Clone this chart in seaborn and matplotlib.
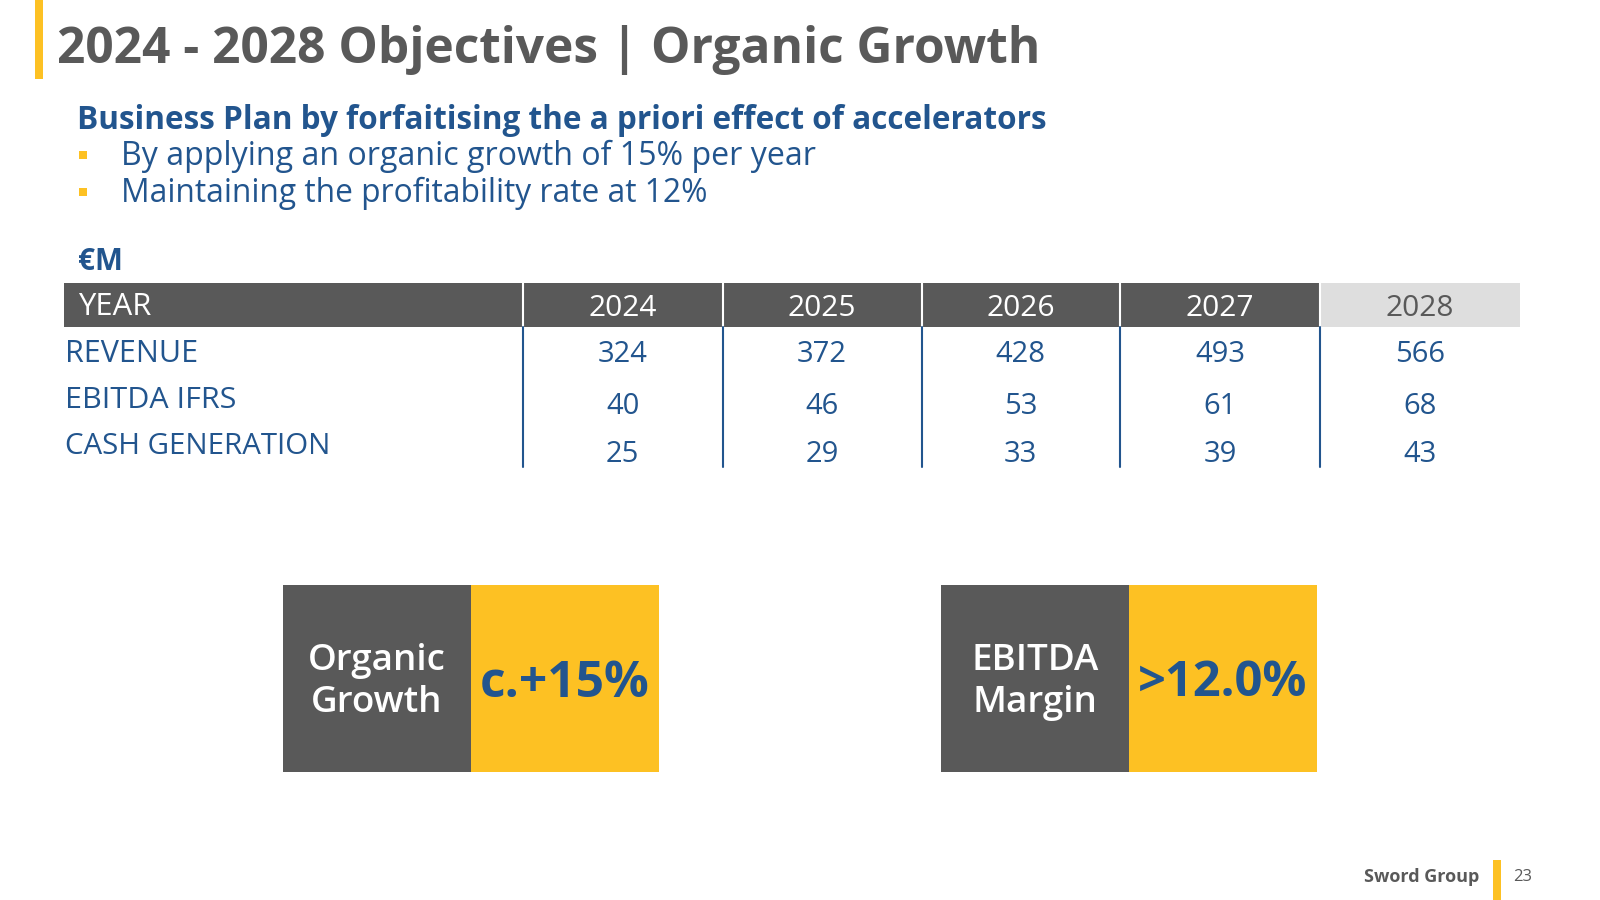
import matplotlib
matplotlib.use("Agg")
import matplotlib.pyplot as plt
from matplotlib.patches import Rectangle
import seaborn as sns

sns.set_theme(style="white")
plt.rcParams['font.family'] = ['Open Sans', 'DejaVu Sans']

# --- data ---
years = ["2024", "2025", "2026", "2027", "2028"]
row_labels = ["REVENUE", "EBITDA IFRS", "CASH GENERATION"]
revenue = [324, 372, 428, 493, 566]
ebitda = [40, 46, 53, 61, 68]
cash = [25, 29, 33, 39, 43]
kpi_labels = ["Organic\nGrowth", "EBITDA\nMargin"]
kpi_values = ["c.+15%", ">12.0%"]
title = "2024 - 2028 Objectives | Organic Growth"
subtitle = "Business Plan by forfaitising the a priori effect of accelerators"
bullets = ["By applying an organic growth of 15% per year",
           "Maintaining the profitability rate at 12%"]

GRAY = "#595959"
YELLOW = "#FDC123"
BLUE = "#22558E"
LIGHT = "#DEDEDE"

fig = plt.figure(figsize=(16, 9), dpi=100)
ax = fig.add_axes([0, 0, 1, 1])
ax.set_xlim(0, 1600)
ax.set_ylim(900, 0)
ax.axis("off")
renderer = fig.canvas.get_renderer()


def fit_text(x, y, s, width, **kw):
    # draw text and scale its size so it spans the given pixel width
    t = ax.text(x, y, s, fontsize=20, **kw)
    w = t.get_window_extent(renderer=renderer).width
    t.set_fontsize(20 * width / w)
    return t


# title block
ax.add_patch(Rectangle((35, 0), 8, 79, color=YELLOW, lw=0))
fit_text(57, 63, title, 984, color=GRAY, fontweight="bold", va="baseline")
fit_text(77, 129, subtitle, 969, color=BLUE, fontweight="bold", va="baseline")
for i, (txt, w) in enumerate(zip(bullets, [692, 586])):
    y = 165 + i * 37
    ax.add_patch(Rectangle((79, y - 14), 8, 8, color=YELLOW, lw=0))
    fit_text(121, y, txt, w, color=BLUE, va="baseline")

fit_text(78, 270, "€M", 45, color=BLUE, fontweight="bold", va="baseline")

# table
edges = [64, 523, 722.5, 921.5, 1120, 1320, 1520]
head_top, head_bot = 283, 327
ax.add_patch(Rectangle((edges[0], head_top), edges[5] - edges[0], head_bot - head_top, color=GRAY, lw=0))
ax.add_patch(Rectangle((edges[5], head_top), edges[6] - edges[5], head_bot - head_top, color=LIGHT, lw=0))
fit_text(78, 307, "YEAR", 73, color="white", va="center")
for j, yr in enumerate(years):
    cx = (edges[j + 1] + edges[j + 2]) / 2
    ax.text(cx, 309, yr, color=GRAY if j == len(years) - 1 else "white",
            fontsize=21.5, ha="center", va="center")
for xe in edges[1:6]:
    ax.plot([xe, xe], [head_top, head_bot], color="white", lw=1.5)
    ax.plot([xe, xe], [head_bot, 467], color=BLUE, lw=1.5)

label_y = [354, 400, 447]
value_y = [354, 407, 454]
label_w = [133, 171, 266]
for i, (lab, vals) in enumerate(zip(row_labels, [revenue, ebitda, cash])):
    fit_text(65, label_y[i], lab, label_w[i], color=BLUE, va="center")
    for j, v in enumerate(vals):
        cx = (edges[j + 1] + edges[j + 2]) / 2
        ax.text(cx, value_y[i], str(v), color=BLUE, fontsize=21, ha="center", va="center")

# KPI boxes
box_x = [283, 941]
for bx, lab, val in zip(box_x, kpi_labels, kpi_values):
    ax.add_patch(Rectangle((bx, 585), 188, 187, color=GRAY, lw=0))
    ax.add_patch(Rectangle((bx + 188, 585), 188, 187, color=YELLOW, lw=0))
    ax.text(bx + 94, 682, lab, color="white", fontsize=26.5, fontweight="semibold",
            ha="center", va="center", linespacing=1.2)
    fit_text(bx + 188 + 94, 684, val, 170, color=BLUE, fontweight="bold",
             ha="center", va="center")

# footer
ax.text(1479, 877, "Sword Group", color=GRAY, fontsize=13, fontweight="bold",
        ha="right", va="center")
ax.add_patch(Rectangle((1493, 860), 8, 40, color=YELLOW, lw=0))
ax.text(1513, 877, "23", color=GRAY, fontsize=12, va="center")

fig.savefig("out.png", dpi=100, facecolor="white")
